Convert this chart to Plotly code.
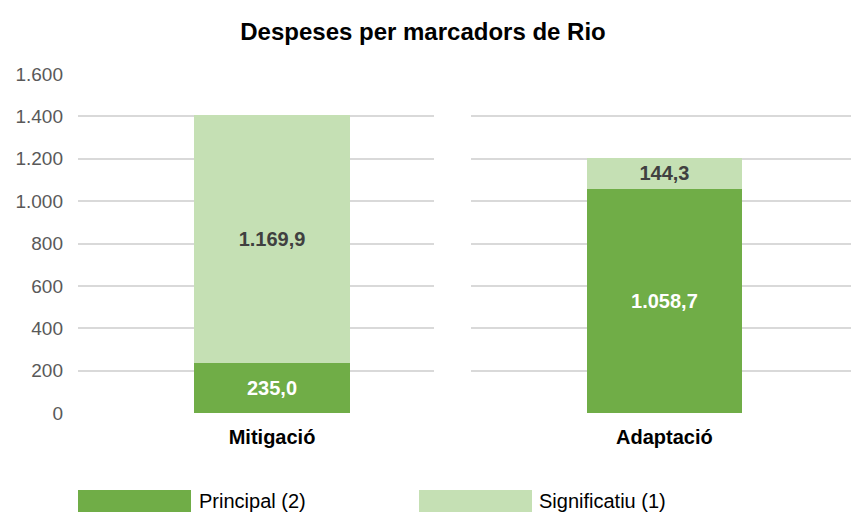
import plotly.graph_objects as go

# ---- data ----
categories = ["Mitigació", "Adaptació"]
series_names = ["Principal (2)", "Significatiu (1)"]
principal = [235.0, 1058.7]
significatiu = [1169.9, 144.3]
y_ticks = [0, 200, 400, 600, 800, 1000, 1200, 1400, 1600]
title_text = "Despeses per marcadors de Rio"

# ---- style ----
W, H = 851, 512
DARK = "#70AD47"
LIGHT = "#C5E0B4"
FONT = "Liberation Sans, Arial, sans-serif"
M_T, M_B = 74, 99
PLOT_H = H - M_T - M_B

def px_x(px):
    return px / W

def px_y(py):
    return (H - M_B - py) / PLOT_H

panels = [
    dict(domain=[px_x(78), px_x(434)], rng=[-0.545, 0.455], width=0.438),
    dict(domain=[px_x(471), 1.0], rng=[-0.509, 0.491], width=0.408),
]

fig = go.Figure()
for i, cat in enumerate(categories):
    xa = "x" if i == 0 else "x2"
    ya = "y" if i == 0 else "y3"
    p = panels[i]
    fig.add_trace(go.Bar(
        x=[cat], y=[principal[i]], name=series_names[0], xaxis=xa, yaxis=ya,
        marker=dict(color=DARK, line=dict(width=0)), width=p["width"],
        texttemplate="%{y:,.1f}", textposition="inside", insidetextanchor="middle",
        textangle=0, constraintext="none",
        textfont=dict(family=FONT, size=20, color="white", weight="bold"),
        showlegend=False, hoverinfo="skip"))
    fig.add_trace(go.Bar(
        x=[cat], y=[significatiu[i]], name=series_names[1], xaxis=xa, yaxis=ya,
        marker=dict(color=LIGHT, line=dict(width=0)), width=p["width"],
        texttemplate="%{y:,.1f}", textposition="inside", insidetextanchor="middle",
        textangle=0, constraintext="none",
        textfont=dict(family=FONT, size=20, color="#404040", weight="bold"),
        showlegend=False, hoverinfo="skip"))

axis_common = dict(showgrid=False, zeroline=False, showline=False, ticks="",
                   tickfont=dict(family=FONT, size=20, color="black", weight="bold"),
                   ticklabelstandoff=10, fixedrange=True)

fig.update_layout(
    width=W, height=H,
    margin=dict(l=0, r=0, t=M_T, b=M_B),
    paper_bgcolor="white", plot_bgcolor="white",
    separators=",.",
    barmode="stack",
    title=dict(text=title_text, x=px_x(423), xanchor="center", y=1 - 32 / H,
               yanchor="middle", font=dict(family=FONT, size=24, color="black", weight="bold")),
    xaxis=dict(domain=panels[0]["domain"], range=panels[0]["rng"], anchor="y", **axis_common),
    xaxis2=dict(domain=panels[1]["domain"], range=panels[1]["rng"], anchor="y3", **axis_common),
    yaxis=dict(range=[0, 1600], tickvals=y_ticks, tickformat=",d",
               showgrid=True, gridcolor="#D9D9D9", gridwidth=2, zeroline=False,
               showline=False, ticks="", ticklabelstandoff=14,
               tickfont=dict(family=FONT, size=19, color="#595959"), fixedrange=True),
    yaxis3=dict(range=[0, 1600], tickvals=y_ticks, overlaying="y", anchor="x2",
                showgrid=True, gridcolor="#D9D9D9", gridwidth=2, zeroline=False,
                showline=False, ticks="", showticklabels=False, fixedrange=True),
    showlegend=False,
)

# ---- custom legend (large swatches) ----
legend_items = [
    dict(color=DARK, x0=78, x1=191, tx=197, label=series_names[0]),
    dict(color=LIGHT, x0=419, x1=532, tx=537, label=series_names[1]),
]
for it in legend_items:
    fig.add_shape(type="rect", xref="paper", yref="paper",
                  x0=px_x(it["x0"]), x1=px_x(it["x1"]), y0=px_y(513), y1=px_y(490),
                  fillcolor=it["color"], line=dict(width=0), layer="above")
    fig.add_annotation(text=it["label"], xref="paper", yref="paper",
                       x=px_x(it["tx"]), y=px_y(501), xanchor="left", yanchor="middle",
                       showarrow=False, font=dict(family=FONT, size=20, color="black"))

fig.write_html("out.html", config={"displayModeBar": False, "staticPlot": True},
               post_script="document.body.style.margin='0';document.body.style.padding='0';")
